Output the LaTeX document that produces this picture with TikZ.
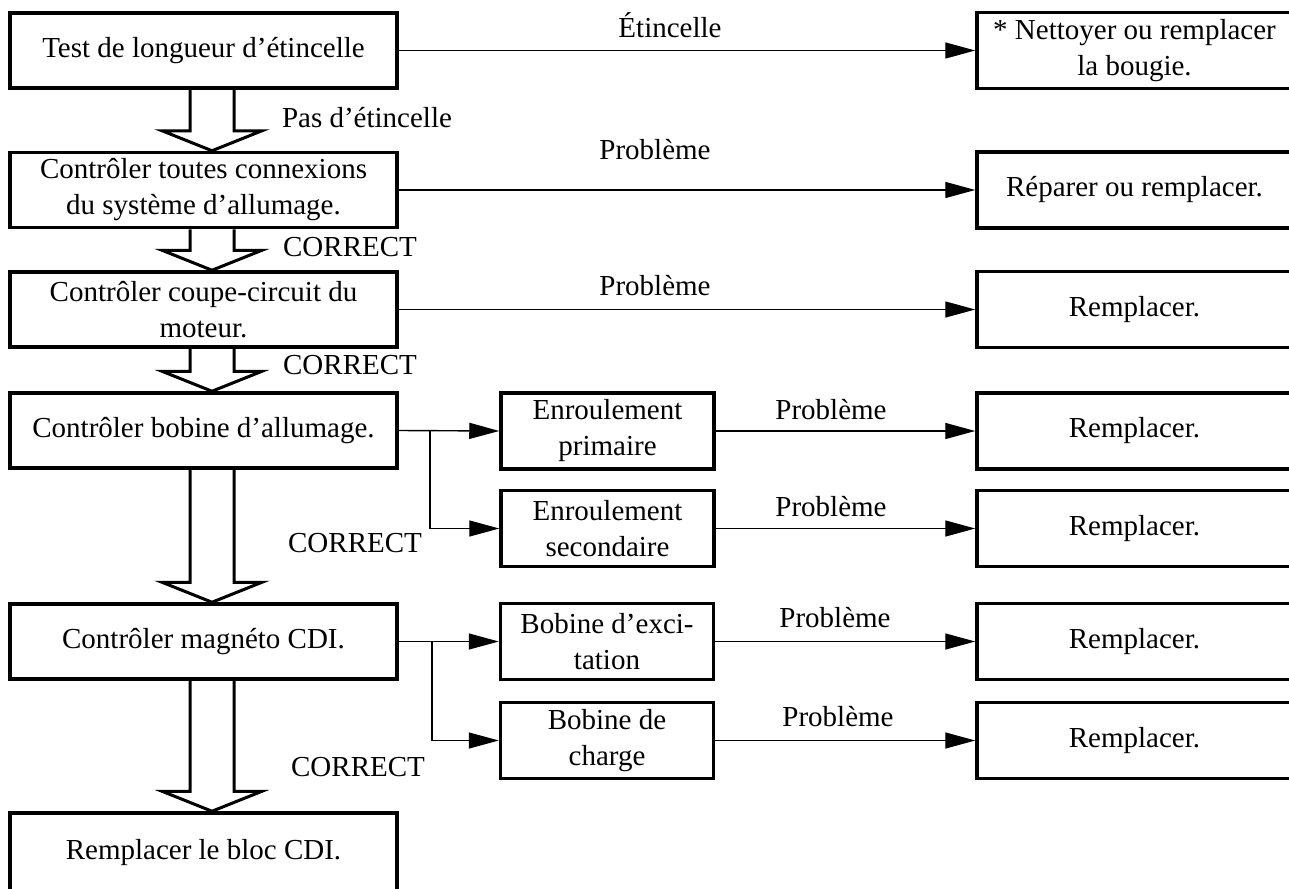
\documentclass[tikz,border=0pt]{standalone}
\usepackage{fontspec}
\setmainfont{Liberation Serif}
\usetikzlibrary{arrows.meta,calc}
\newcommand\myhollow[2]{%
  \draw[bigarr] let \p1=(#1.south), \p2=(#2.north) in
    (\x1+8.5pt-22pt,\y1) -- (\x1+8.5pt-22pt,\y2+20pt) -- (\x1+8.5pt-50pt,\y2+20pt)
    -- (\x1+8.5pt,\y2) -- (\x1+8.5pt+50pt,\y2+20pt) -- (\x1+8.5pt+22pt,\y2+20pt)
    -- (\x1+8.5pt+22pt,\y1);}
\begin{document}
\begin{tikzpicture}[x=1pt,y=-1pt,
  box/.style={draw, line width=3.5pt, inner sep=0pt, align=center,
    font=\fontsize{29}{36}\selectfont},
  lbox/.style={box, minimum width=387pt, minimum height=75pt},
  mbox/.style={box, minimum width=213pt, minimum height=76pt},
  rbox/.style={box, minimum width=315pt, minimum height=76pt},
  lab/.style={font=\fontsize{29}{36}\selectfont, inner sep=0pt},
  conn/.style={line width=1.4pt, -{Triangle[length=30pt,width=16pt]}},
  bigarr/.style={line width=3pt, line join=miter}]
\clip (0,0) rectangle (1289,888);
% left column
\node[lbox] (L1) at (203.5,50.5) {Test de longueur d’étincelle};
\node[lbox] (L2) at (203.5,190) {Contrôler toutes connexions\\du système d’allumage.};
\node[lbox] (L3) at (203.5,309.5) {Contrôler coupe-circuit du\\moteur.};
\node[lbox] (L4) at (203.5,430.5) {Contrôler bobine d’allumage.};
\node[lbox] (L5) at (203.5,641.5) {Contrôler magnéto CDI.};
\node[lbox, minimum height=80pt] (L6) at (203.5,853) {Remplacer le bloc CDI.};
% middle column
\node[mbox] (M1) at (607.5,431) {Enroulement\\primaire};
\node[mbox] (M2) at (607.5,528.5) {Enroulement\\secondaire};
\node[mbox] (M3) at (607,641.5) {Bobine d’exci-\\tation};
\node[mbox] (M4) at (607,740.5) {Bobine de\\charge};
% right column
\node[rbox] (R1) at (1134.5,50.5) {* Nettoyer ou remplacer\\la bougie.};
\node[rbox] (R2) at (1134.5,190) {Réparer ou remplacer.};
\node[rbox] (R3) at (1134.5,309.5) {Remplacer.};
\node[rbox] (R4) at (1134.5,431) {Remplacer.};
\node[rbox] (R5) at (1134.5,528.5) {Remplacer.};
\node[rbox] (R6) at (1134.5,641.5) {Remplacer.};
\node[rbox] (R7) at (1134.5,740.5) {Remplacer.};
% hollow arrows
\myhollow{L1}{L2}
\myhollow{L2}{L3}
\myhollow{L3}{L4}
\myhollow{L4}{L5}
\myhollow{L5}{L6}
% labels
\node[lab] (tA) at (367,118) {Pas d’étincelle};
\node[lab] (tB) at (350,247) {CORRECT};
\node[lab] (tC) at (350,365) {CORRECT};
\node[lab] (tD) at (355,543) {CORRECT};
\node[lab] (tE) at (358,767) {CORRECT};
\node[lab] (p1) at (670,25) {Étincelle};
\node[lab] (p2) at (655,150) {Problème};
\node[lab] (p3) at (655,286) {Problème};
\node[lab] (p4) at (831,410) {Problème};
\node[lab] (p5) at (831,507) {Problème};
\node[lab] (p6) at (835,618) {Problème};
\node[lab] (p7) at (838,717) {Problème};
% connectors
\draw[conn] (L1.east) -- (R1.west);
\draw[conn] (L2.east) -- (R2.west);
\draw[conn] (L3.east) -- (R3.west);
\coordinate (b1) at (430,430.5);
\coordinate (b2) at (432,641.5);
\draw[conn] (L4.east) -- (M1.west);
\draw[conn] (b1) |- (M2.west);
\draw[conn] (L5.east) -- (M3.west);
\draw[conn] (b2) |- (M4.west);
\draw[conn] (M1.east) -- (R4.west);
\draw[conn] (M2.east) -- (R5.west);
\draw[conn] (M3.east) -- (R6.west);
\draw[conn] (M4.east) -- (R7.west);
\end{tikzpicture}
\end{document}
